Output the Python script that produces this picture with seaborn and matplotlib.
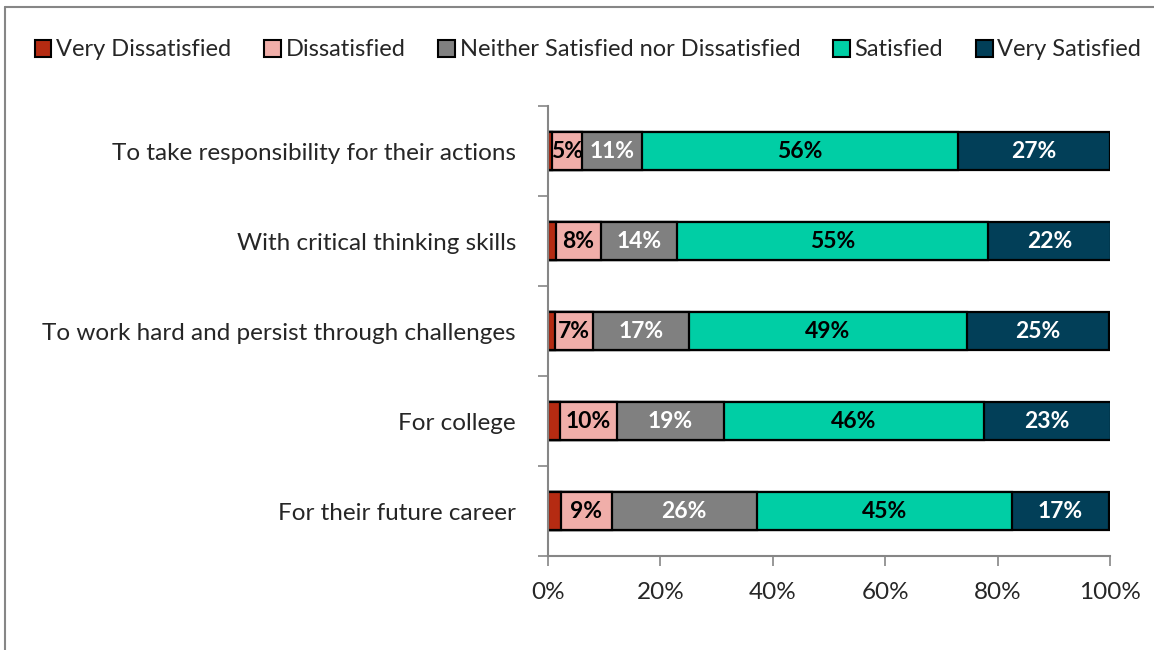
import matplotlib
matplotlib.use("Agg")
import matplotlib.pyplot as plt
from matplotlib.patches import Patch
from matplotlib.lines import Line2D
from matplotlib.ticker import FuncFormatter
import numpy as np
import pandas as pd
import seaborn as sns

# Survey items (top to bottom)
categories = [
    "To take responsibility for their actions",
    "With critical thinking skills",
    "To work hard and persist through challenges",
    "For college",
    "For their future career",
]
levels = [
    "Very Dissatisfied",
    "Dissatisfied",
    "Neither Satisfied nor Dissatisfied",
    "Satisfied",
    "Very Satisfied",
]
very_dissatisfied = [0.8, 1.4, 1.2, 2.1, 2.3]
dissatisfied = [5.3, 8.0, 6.8, 10.1, 9.1]
neither = [10.6, 13.6, 17.1, 19.2, 25.7]
satisfied = [56.3, 55.3, 49.4, 46.1, 45.4]
very_satisfied = [27.0, 21.8, 25.4, 22.6, 17.4]

colors = ["#B52B12", "#F0AEA9", "#808080", "#00CEA5", "#023F58"]
label_colors = [None, "black", "white", "black", "white"]

series = [very_dissatisfied, dissatisfied, neither, satisfied, very_satisfied]
df = pd.DataFrame({lvl: vals for lvl, vals in zip(levels, series)}, index=categories)
cum = df.cumsum(axis=1)

sns.set_theme(style="white")
plt.rcParams["font.family"] = ["Lato", "DejaVu Sans"]

fig = plt.figure(figsize=(11.54, 6.5), dpi=100)
ax = fig.add_axes([548 / 1154, 1 - 556 / 650, 562 / 1154, 450 / 650])

# Stacked bars: draw cumulative totals from the widest down
for lvl, col in reversed(list(zip(levels, colors))):
    sns.barplot(
        x=cum[lvl].values, y=categories, orient="h", color=col,
        width=0.42, edgecolor="black", linewidth=1.6, ax=ax,
        order=categories, saturation=1,
    )

# Segment labels
for j, (lvl, tc) in enumerate(zip(levels, label_colors)):
    if tc is None:
        continue
    for i, cat in enumerate(categories):
        v = df.loc[cat, lvl]
        center = cum.loc[cat, lvl] - v / 2
        ax.text(center, i, f"{v:.0f}%", ha="center", va="center",
                color=tc, fontsize=16.5, fontweight="bold")

ax.set_xlim(0, 100)
ax.set_ylim(4.5, -0.5)
ax.set_xticks(np.arange(0, 101, 20))
ax.xaxis.set_major_formatter(FuncFormatter(lambda v, p: f"{v:.0f}%"))
ax.set_yticks(np.arange(-0.5, 4.6, 1.0))
ax.set_yticklabels([])
ax.set_yticks(range(len(categories)), minor=True)
ax.set_yticklabels(categories, minor=True)
ax.tick_params(axis="y", which="minor", length=0, pad=23, labelsize=17.5)
ax.tick_params(axis="y", which="major", length=7, width=1.2, color="#868686", direction="out", left=True)
ax.tick_params(axis="x", length=7, width=1.2, color="#868686", direction="out", bottom=True,
               labelsize=17.5, pad=12)
ax.set_xlabel("")
ax.set_ylabel("")
for side in ["top", "right"]:
    ax.spines[side].set_visible(False)
for side in ["left", "bottom"]:
    ax.spines[side].set_color("#868686")
    ax.spines[side].set_linewidth(1.5)

handles = [Patch(facecolor=c, edgecolor="black", linewidth=1.5) for c in colors]
fig.legend(handles, levels, loc="center", bbox_to_anchor=(588 / 1154, 1 - 50 / 650), ncol=5,
           frameon=False, fontsize=17, handlelength=0.7, handleheight=0.7,
           handletextpad=0.2, columnspacing=1.4)

# Chart area frame
fig.add_artist(Line2D([5 / 1154, 5 / 1154], [0, 1 - 7 / 650], color="#868686", linewidth=1.5,
                      transform=fig.transFigure))
fig.add_artist(Line2D([5 / 1154, 1], [1 - 7 / 650, 1 - 7 / 650], color="#868686", linewidth=1.5,
                      transform=fig.transFigure))

fig.savefig("out.png", dpi=100)
